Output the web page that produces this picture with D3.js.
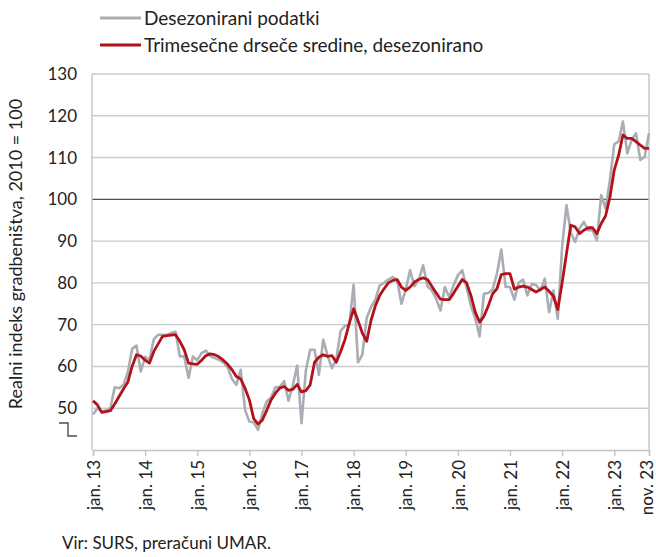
<!DOCTYPE html>
<html>
<head>
<meta charset="utf-8">
<script src="https://cdn.jsdelivr.net/npm/d3@7"></script>
<style>
  body { margin: 0; background: #fff; }
  text { font-family: Lato, "Open Sans", sans-serif; fill: #222; }
</style>
</head>
<body>
<svg id="chart"></svg>
<script>
// monthly index values, jan. 13 onwards (one row per year)
var seasAdj = [
  48.5, 50, 49.2, 49.5, 50, 55, 54.8, 55.6, 58.5, 64.2, 65, 58.8,
  62.3, 61.6, 66.5, 67.6, 67.6, 67.5, 68, 68.3, 62.4, 62.4, 57.3, 62.4,
  61.5, 63.2, 63.8, 62.5, 62, 61.6, 61, 59.8, 57, 55.6, 59.2, 49.6,
  46.8, 46.6, 44.8, 48.8, 51.6, 52.6, 55, 55.1, 56.5, 51.8, 55.5, 60.2,
  46.4, 59, 64, 64, 58, 66.4, 62.6, 59.6, 61.6, 68.5, 69.7, 70,
  79.6, 61, 62.8, 71.6, 74.2, 76, 79.4, 80, 80.8, 81.4, 80.8, 75,
  78.4, 83, 79.2, 80.8, 84.2, 79.2, 78.2, 76.2, 73.4, 79, 76.6, 79.4,
  81.8, 83, 79, 74.5, 71.5, 67.2, 77.4, 77.6, 78.4, 82.2, 88, 79,
  79, 76, 80, 80.8, 77, 79.7, 79.5, 78.2, 81, 73, 78.2, 71.4,
  88.6, 98.6, 92, 89.8, 93, 94.6, 92.6, 92.6, 90.2, 101, 97.8, 104.6,
  113.2, 113.8, 118.6, 111, 114.2, 115.8, 109.4, 110.2, 115.8
];

var movingAvg = [
  51.8, 50.8, 49, 49.2, 49.4, 51, 52.8, 54.6, 56.2, 60, 62.8, 62.5,
  61.5, 60.8, 63.6, 65.4, 67.2, 67.4, 67.5, 67.6, 66, 64, 60.8, 60.6,
  60.5, 61.5, 62.6, 63, 62.8, 62.3, 61.5, 60.5, 59.2, 57.6, 57, 54.8,
  52, 47.5, 46.2, 47.2, 49.5, 52, 53.6, 54.8, 55.2, 54.3, 54.5, 55.7,
  53.9, 54.2, 55.6, 61, 62.2, 62.8, 62.4, 62.6, 61, 63.5, 66.4, 70.3,
  73.8, 71, 68, 66, 71, 74.5, 77, 78.6, 80, 80.6, 80.8, 79,
  78.2, 79, 80.2, 80.8, 81.2, 80.8, 79.2, 77.6, 76.1, 76, 76, 77.5,
  79.2, 80.8, 80, 77, 73, 70.6, 72, 74.5, 77.4, 78.6, 82, 82.2,
  82.2, 78.5, 79, 79.2, 79, 78.4, 77.8, 78.4, 79, 78, 76.8, 73.6,
  80, 87, 93.8, 93.4, 91.8, 92.6, 93.2, 93.2, 91.8, 94.2, 96, 100.5,
  107, 110.5, 115.4, 114.6, 114.6, 113.8, 113, 112.2, 112.2
];

var xTickIdx = [0, 12, 24, 36, 48, 60, 72, 84, 96, 108, 120, 128];
var xTickLabels = ["jan. 13", "jan. 14", "jan. 15", "jan. 16", "jan. 17", "jan. 18",
  "jan. 19", "jan. 20", "jan. 21", "jan. 22", "jan. 23", "nov. 23"];
var yTicks = [50, 60, 70, 80, 90, 100, 110, 120, 130];

var seriesNames = ["Desezonirani podatki", "Trimesečne drseče sredine, desezonirano"];
var seriesColors = ["#a9aeb4", "#b3121b"];

var w = 656, h = 557;
var plot = { left: 92, right: 649, top: 74, bottom: 450 };

var svg = d3.select("#chart").attr("width", w).attr("height", h);

var x = d3.scaleLinear().domain([0, seasAdj.length - 1]).range([plot.left + 1, plot.right]);
var y = d3.scaleLinear().domain([40, 130]).range([plot.bottom, plot.top]);

// gridlines
svg.append("g").selectAll("line")
  .data(yTicks)
  .join("line")
  .attr("x1", plot.left).attr("x2", plot.right)
  .attr("y1", d => y(d)).attr("y2", d => y(d))
  .attr("stroke", d => d === 100 ? "#4d4d4f" : "#cbcbcb")
  .attr("stroke-width", 1.4);

// frame left / right
svg.append("line").attr("x1", plot.left).attr("x2", plot.left)
  .attr("y1", plot.top).attr("y2", plot.bottom).attr("stroke", "#c4c4c4").attr("stroke-width", 1.4);
svg.append("line").attr("x1", plot.right).attr("x2", plot.right)
  .attr("y1", plot.top).attr("y2", plot.bottom).attr("stroke", "#c4c4c4").attr("stroke-width", 1.4);

// x axis
var xAxis = d3.axisBottom(x)
  .tickValues(xTickIdx)
  .tickSize(6)
  .tickFormat((d, i) => xTickLabels[i]);
var gx = svg.append("g").attr("transform", "translate(0," + plot.bottom + ")").call(xAxis);
gx.select(".domain").attr("stroke", "#c4c4c4").attr("stroke-width", 1.4);
gx.selectAll(".tick line").attr("stroke", "#c4c4c4").attr("stroke-width", 1.4);
gx.selectAll(".tick text")
  .attr("transform", "rotate(-90)")
  .attr("x", -10).attr("y", (d, i) => i === xTickIdx.length - 1 ? -3 : 0)
  .attr("dy", "0.36em")
  .style("text-anchor", "end")
  .style("font-size", "17px")
  .attr("fill", "#222");

// y tick labels
svg.append("g").selectAll("text")
  .data(yTicks)
  .join("text")
  .attr("x", 77).attr("y", d => y(d)).attr("dy", "0.35em")
  .style("text-anchor", "end")
  .style("font-size", "17px")
  .text(d => d);

// axis break mark
svg.append("path")
  .attr("d", "M59,423H68V436H77")
  .attr("fill", "none").attr("stroke", "#4d4d4f").attr("stroke-width", 1.4);

// y title
svg.append("text")
  .attr("transform", "translate(22," + ((plot.top + 418) / 2 + 8) + ") rotate(-90)")
  .style("text-anchor", "middle")
  .style("font-size", "18px")
  .text("Realni indeks gradbeništva, 2010 = 100");

// lines
var line = d3.line().x((d, i) => x(i)).y(d => y(d));
[seasAdj, movingAvg].forEach(function (s, k) {
  svg.append("path")
    .datum(s)
    .attr("d", line)
    .attr("fill", "none")
    .attr("stroke", seriesColors[k])
    .attr("stroke-width", k === 0 ? 2.6 : 2.8)
    .attr("stroke-linejoin", "round");
});

// legend
seriesNames.forEach(function (name, k) {
  var ly = 18 + k * 27;
  svg.append("line")
    .attr("x1", 100).attr("x2", 141).attr("y1", ly).attr("y2", ly)
    .attr("stroke", seriesColors[k]).attr("stroke-width", 3);
  svg.append("text")
    .attr("x", 144).attr("y", ly).attr("dy", "0.35em")
    .style("font-size", "19px")
    .text(name);
});

// source
svg.append("text")
  .attr("x", 62).attr("y", 549)
  .style("font-size", "17px")
  .text("Vir: SURS, preračuni UMAR.");
</script>
</body>
</html>
